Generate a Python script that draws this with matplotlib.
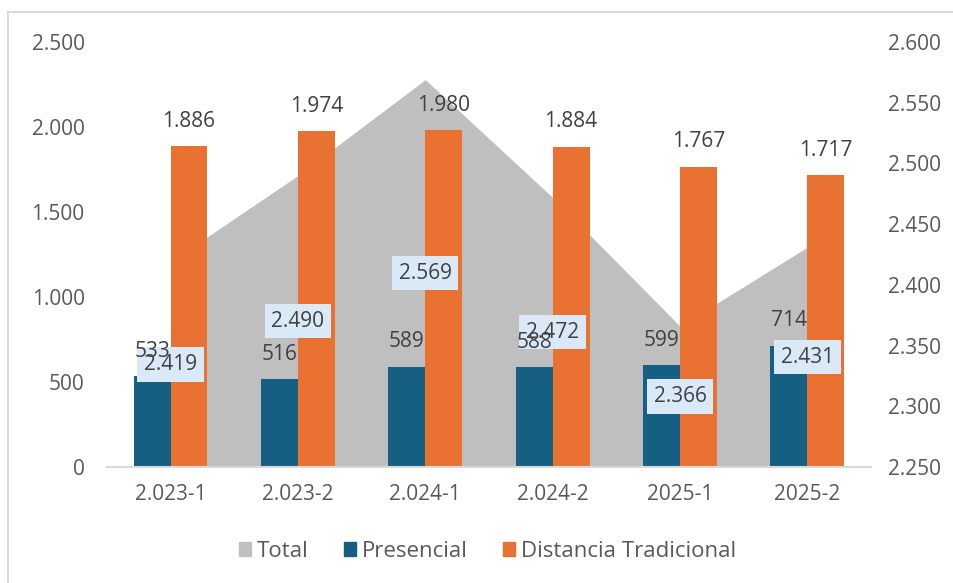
import numpy as np
import matplotlib.pyplot as plt
from matplotlib.patches import Patch
from matplotlib.lines import Line2D

plt.rcParams['font.family'] = ['Open Sans', 'DejaVu Sans']

categories = ["2.023-1", "2.023-2", "2.024-1", "2.024-2", "2025-1", "2025-2"]
presencial = [533, 516, 589, 588, 599, 714]
distancia = [1886, 1974, 1980, 1884, 1767, 1717]
total = [2419, 2490, 2569, 2472, 2366, 2431]

c_total = '#BFBFBF'
c_pres = '#156082'
c_dist = '#E97132'
c_text = '#595959'
fs = 15


def fmt(v):
    # thousands with a dot, Spanish style
    return f"{v:,.0f}".replace(",", ".")


fig = plt.figure(figsize=(9.54, 5.83), dpi=100)
ax = fig.add_axes([0.112, 0.199, 0.801, 0.729])
ax2 = ax.twinx()
ax.set_zorder(ax2.get_zorder() + 1)
ax.patch.set_visible(False)

x = np.arange(len(categories))
w = 0.29

# secondary axis: grey area
ax2.fill_between(x, 2250, total, color=c_total, lw=0)
ax2.set_ylim(2250, 2600)
ax2.set_yticks(np.arange(2250, 2601, 50))
ax2.set_yticklabels([fmt(v) for v in np.arange(2250, 2601, 50)])

# primary axis: bars
ax.bar(x - w / 2, presencial, w, color=c_pres, zorder=2)
ax.bar(x + w / 2, distancia, w, color=c_dist, zorder=2)
ax.set_ylim(0, 2500)
ax.set_xlim(-0.5, len(categories) - 0.5)
ax.set_yticks(np.arange(0, 2501, 500))
ax.set_yticklabels([fmt(v) for v in np.arange(0, 2501, 500)])
ax.set_xticks(x)
ax.set_xticklabels(categories)

# area labels, boxes in the middle of the area
for xi, v in zip(x, total):
    ax.text(xi, (v + 2250) / 2, fmt(v), transform=ax2.transData,
            ha='center', va='center', fontsize=fs, color='#404040', zorder=5,
            bbox=dict(boxstyle='square,pad=0.32', fc='#DAE9F8', ec='none'))

# bar labels
for xi, v in zip(x, presencial):
    ax.annotate(fmt(v), (xi - w / 2, v), xytext=(0, 18), textcoords='offset points',
                ha='center', va='center', fontsize=fs, color='#404040', zorder=6)
for xi, v in zip(x, distancia):
    ax.annotate(fmt(v), (xi + w / 2, v), xytext=(0, 18), textcoords='offset points',
                ha='center', va='center', fontsize=fs, color='#404040', zorder=6)

for a in (ax, ax2):
    for s in a.spines.values():
        s.set_visible(False)
    a.tick_params(length=0, labelsize=fs, colors=c_text)
ax.spines['bottom'].set_visible(True)
ax.spines['bottom'].set_color('#D9D9D9')
ax.spines['bottom'].set_linewidth(1.5)
ax.tick_params(axis='y', pad=16)
ax.tick_params(axis='x', pad=12)
ax2.tick_params(axis='y', pad=12)

handles = [Patch(color=c_total), Patch(color=c_pres), Patch(color=c_dist)]
fig.legend(handles, ["Total", "Presencial", "Distancia Tradicional"],
           loc='center', bbox_to_anchor=(0.511, 0.054), ncol=3, frameon=False,
           fontsize=16, labelcolor=c_text, handlelength=0.55, handleheight=0.55,
           handletextpad=0.25, columnspacing=1.6)

# chart border
fig.add_artist(Line2D([8 / 954, 8 / 954], [0, 1 - 12 / 583], color='#D9D9D9', lw=1.5))
fig.add_artist(Line2D([8 / 954, 1], [1 - 12 / 583, 1 - 12 / 583], color='#D9D9D9', lw=1.5))

plt.savefig('out.png', dpi=100)
